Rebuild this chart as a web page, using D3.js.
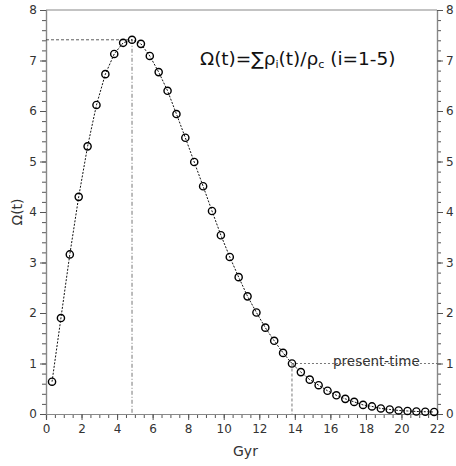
<!DOCTYPE html>
<html><head><meta charset="utf-8">
<script src="https://cdn.jsdelivr.net/npm/d3@7"></script>
<style>body{margin:0;background:#fff}svg{display:block}</style>
</head><body>
<script>
const timeGyr = [0.34,0.84,1.34,1.84,2.34,2.84,3.34,3.84,4.34,4.84,5.34,5.84,6.34,6.84,7.34,7.84,8.34,8.84,9.34,9.84,10.34,10.84,11.34,11.84,12.34,12.84,13.34,13.84,14.34,14.84,15.34,15.84,16.34,16.84,17.34,17.84,18.34,18.84,19.34,19.84,20.34,20.84,21.34,21.84];
const omega = [0.64,1.9,3.16,4.3,5.3,6.12,6.73,7.13,7.35,7.41,7.33,7.09,6.77,6.40,5.94,5.47,4.99,4.51,4.02,3.54,3.11,2.71,2.33,2.01,1.71,1.45,1.21,1.00,0.83,0.68,0.57,0.46,0.37,0.30,0.24,0.18,0.15,0.11,0.09,0.07,0.06,0.05,0.045,0.04];
const xTicks = [0,2,4,6,8,10,12,14,16,18,20,22];
const yTicks = [0,1,2,3,4,5,6,7,8];
const peakT = 4.84, peakOmega = 7.41;
const presentT = 13.84, presentOmega = 1.0;

const W=456,H=466, m={l:46,t:10,r:19,b:52};
const svg=d3.select("body").append("svg").attr("width",W).attr("height",H);
const x=d3.scaleLinear().domain([0,22]).range([m.l,W-m.r]);
const y=d3.scaleLinear().domain([0,8]).range([H-m.b,m.t]);
const axisCol="#888", txtCol="#333", font="DejaVu Sans";

const xMinor=d3.range(0,22.01,0.5), yMinor=d3.range(0,8.01,0.2);
function styleAxis(g){
  g.select(".domain").attr("stroke",axisCol).attr("stroke-width",1.2);
  g.selectAll(".tick line").attr("stroke","#555");
  g.selectAll("text").attr("fill",txtCol).attr("font-family",font).attr("font-size",12);
}
svg.append("g").attr("transform",`translate(0,${y(0)})`).call(d3.axisBottom(x).tickValues(xMinor).tickSize(4).tickFormat("")).call(styleAxis);
svg.append("g").attr("transform",`translate(0,${y(0)})`).call(d3.axisBottom(x).tickValues(xTicks).tickSize(6).tickPadding(4).tickFormat(d3.format("d"))).call(styleAxis);
svg.append("g").attr("transform",`translate(${x(0)},0)`).call(d3.axisLeft(y).tickValues(yMinor).tickSize(4).tickFormat("")).call(styleAxis);
svg.append("g").attr("transform",`translate(${x(0)},0)`).call(d3.axisLeft(y).tickValues(yTicks).tickSize(6).tickPadding(3).tickFormat(d3.format("d"))).call(styleAxis);
svg.append("g").attr("transform",`translate(${x(22)},0)`).call(d3.axisRight(y).tickValues(yMinor).tickSize(4).tickFormat("")).call(styleAxis);
svg.append("g").attr("transform",`translate(${x(22)},0)`).call(d3.axisRight(y).tickValues(yTicks).tickSize(6).tickPadding(3).tickFormat(d3.format("d"))).call(styleAxis);
svg.append("line").attr("x1",x(0)).attr("x2",x(22)).attr("y1",y(8)).attr("y2",y(8)).attr("stroke",axisCol).attr("stroke-width",1.2);

svg.append("line").attr("x1",x(0)).attr("x2",x(peakT)).attr("y1",y(peakOmega)).attr("y2",y(peakOmega)).attr("stroke","#333").attr("stroke-width",0.8).attr("stroke-dasharray","3,2");
svg.append("line").attr("x1",x(peakT)).attr("x2",x(peakT)).attr("y1",y(peakOmega)).attr("y2",y(0)).attr("stroke","#555").attr("stroke-width",0.8).attr("stroke-dasharray","4,2,1,2");
svg.append("line").attr("x1",x(presentT)).attr("x2",x(22)).attr("y1",y(presentOmega)).attr("y2",y(presentOmega)).attr("stroke","#555").attr("stroke-width",0.8).attr("stroke-dasharray","2,2");
svg.append("line").attr("x1",x(presentT)).attr("x2",x(presentT)).attr("y1",y(presentOmega)).attr("y2",y(0)).attr("stroke","#555").attr("stroke-width",0.8).attr("stroke-dasharray","3,2");

const pts=timeGyr.map((t,i)=>[t,omega[i]]);
svg.append("path").datum(pts).attr("fill","none").attr("stroke","#111").attr("stroke-width",1).attr("stroke-dasharray","2,1.5")
  .attr("d",d3.line().x(d=>x(d[0])).y(d=>y(d[1])));
svg.selectAll("circle.pt").data(pts).enter().append("circle").attr("class","pt")
  .attr("cx",d=>x(d[0])).attr("cy",d=>y(d[1])).attr("r",3.6).attr("fill","none").attr("stroke","#000").attr("stroke-width",1.4);

svg.append("text").attr("x",233).attr("y",456).attr("font-family",font).attr("font-size",14).attr("fill",txtCol).text("Gyr");
svg.append("text").attr("transform",`translate(22,${y(4)}) rotate(-90)`).attr("text-anchor","middle").attr("font-family",font).attr("font-size",14).attr("fill",txtCol).text("Ω(t)");
const ann=svg.append("text").attr("x",200).attr("y",65).attr("font-family",font).attr("font-size",18.5).attr("fill","#111");
ann.append("tspan").text("Ω(t)=∑ρ");
ann.append("tspan").attr("font-size",11).attr("dy",3).text("i");
ann.append("tspan").attr("dy",-3).text("(t)/ρ");
ann.append("tspan").attr("font-size",11).attr("dy",3).text("c");
ann.append("tspan").attr("dy",-3).text(" (i=1-5)");
svg.append("text").attr("x",333).attr("y",366).attr("font-family",font).attr("font-size",13.5).attr("fill",txtCol).text("present-time");
</script>
</body></html>
